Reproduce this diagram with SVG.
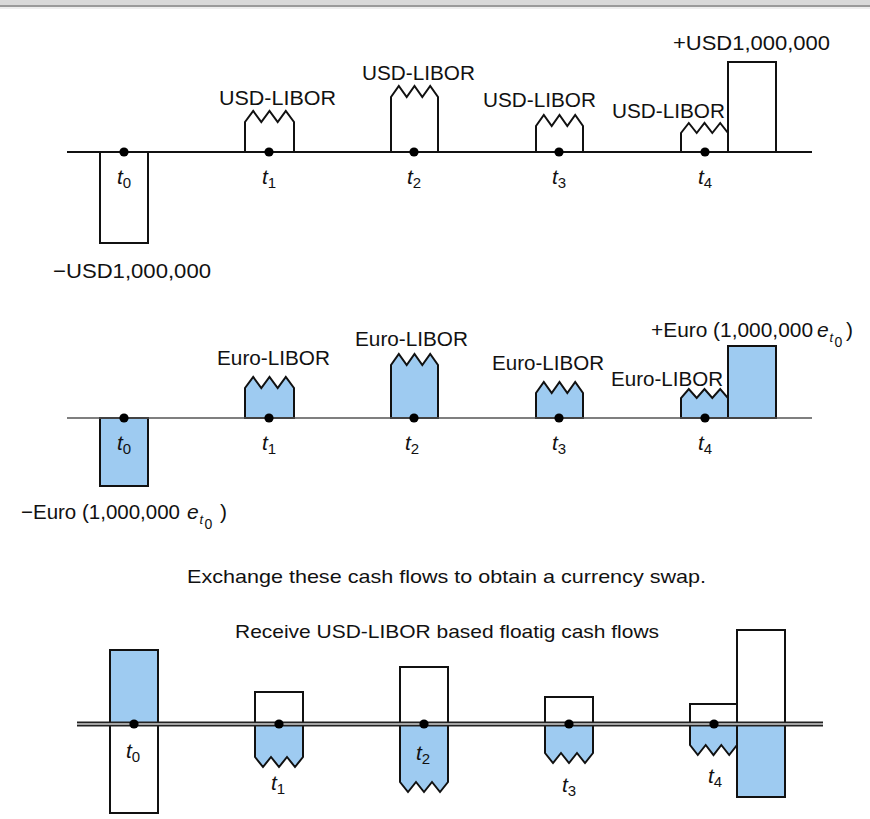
<svg xmlns="http://www.w3.org/2000/svg" width="870" height="819" viewBox="0 0 870 819">
<style>
  text { font-family: "Liberation Sans", Arial, sans-serif; fill: #111; }
  .lbl { font-size: 20px; }
  .amt { font-size: 21px; }
  .cap { font-size: 19px; }
  .it { font-style: italic; }
  .tk { font-size: 21px; font-style: italic; }
  .sub { font-size: 15px; font-style: normal; }
  .box { stroke: #111; stroke-width: 2; stroke-linejoin: miter; }
  .w { fill: #fff; }
  .b { fill: #9ecbf1; }
  .dot { fill: #000; }
</style>
<defs>
  <circle id="d" r="4.6" class="dot"/>
</defs>
<rect x="0" y="0" width="870" height="5" fill="#d9d9d9"/>
<line x1="0" y1="6" x2="870" y2="6" stroke="#9a9a9a" stroke-width="2"/>
<rect x="0" y="7" width="870" height="2" fill="#eeeeee"/>

<!-- TOP: USD flows -->
<g id="usd-t0"><rect class="box w" x="100" y="152" width="48" height="91"/>
  <text class="amt" x="53" y="278" textLength="158" lengthAdjust="spacingAndGlyphs">−USD1,000,000</text></g>
<g id="usd-t1"><path class="box w" d="M245 152V122L253.2 111L261.3 122L269.5 111L277.7 122L285.8 111L294 122V152"/>
  <text class="lbl" x="219" y="105" textLength="117" lengthAdjust="spacingAndGlyphs">USD-LIBOR</text></g>
<g id="usd-t2"><path class="box w" d="M391 152V97L398.8 86L406.7 97L414.5 86L422.3 97L430.2 86L438 97V152"/>
  <text class="lbl" x="362" y="80" textLength="113" lengthAdjust="spacingAndGlyphs">USD-LIBOR</text></g>
<g id="usd-t3"><path class="box w" d="M536 152V126L543.8 115L551.7 126L559.5 115L567.3 126L575.2 115L583 126V152"/>
  <text class="lbl" x="483" y="107" textLength="113" lengthAdjust="spacingAndGlyphs">USD-LIBOR</text></g>
<g id="usd-t4"><path class="box w" d="M681 152V133L688.8 123L696.7 133L704.5 123L712.3 133L720.2 123L728 133V152"/>
  <text class="lbl" x="612" y="118" textLength="113" lengthAdjust="spacingAndGlyphs">USD-LIBOR</text></g>
<g id="usd-principal"><rect class="box w" x="728" y="62" width="48" height="90"/>
  <text class="amt" x="673" y="50" textLength="157" lengthAdjust="spacingAndGlyphs">+USD1,000,000</text></g>

<!-- MIDDLE: Euro flows -->
<g id="eur-t0"><rect class="box b" x="100" y="418" width="48" height="68"/>
  <text class="amt" x="21" y="519" textLength="159" lengthAdjust="spacingAndGlyphs">−Euro (1,000,000</text>
  <text class="amt it" x="187" y="519">e</text>
  <text class="it" x="199.5" y="524" font-size="13">t</text>
  <text x="204.5" y="529" font-size="14">0</text>
  <text class="amt" x="220" y="519">)</text></g>
<g id="eur-t1"><path class="box b" d="M245 418V388L253.2 377L261.3 388L269.5 377L277.7 388L285.8 377L294 388V418Z"/>
  <text class="lbl" x="217" y="365" textLength="113" lengthAdjust="spacingAndGlyphs">Euro-LIBOR</text></g>
<g id="eur-t2"><path class="box b" d="M391 418V365L398.8 354L406.7 365L414.5 354L422.3 365L430.2 354L438 365V418Z"/>
  <text class="lbl" x="355" y="346" textLength="113" lengthAdjust="spacingAndGlyphs">Euro-LIBOR</text></g>
<g id="eur-t3"><path class="box b" d="M536 418V393L543.8 382L551.7 393L559.5 382L567.3 393L575.2 382L583 393V418Z"/>
  <text class="lbl" x="492" y="370" textLength="112" lengthAdjust="spacingAndGlyphs">Euro-LIBOR</text></g>
<g id="eur-t4"><path class="box b" d="M681 418V398L688.8 389L696.7 398L704.5 389L712.3 398L720.2 389L728 398V418Z"/>
  <text class="lbl" x="611" y="386" textLength="112" lengthAdjust="spacingAndGlyphs">Euro-LIBOR</text></g>
<g id="eur-principal"><rect class="box b" x="728" y="346" width="48" height="72"/>
  <text class="amt" x="651" y="337" textLength="162" lengthAdjust="spacingAndGlyphs">+Euro (1,000,000</text>
  <text class="amt it" x="817" y="337">e</text>
  <text class="it" x="829.5" y="342" font-size="13">t</text>
  <text x="834.5" y="347" font-size="14">0</text>
  <text class="amt" x="846" y="337">)</text></g>

<!-- BOTTOM: swap -->
<text class="cap" x="187" y="583" textLength="519" lengthAdjust="spacingAndGlyphs">Exchange these cash flows to obtain a currency swap.</text>
<text class="cap" x="235" y="638" textLength="424" lengthAdjust="spacingAndGlyphs">Receive USD-LIBOR based floatig cash flows</text>

<g id="swap-t0"><rect class="box b" x="110" y="650" width="48" height="74"/><rect class="box w" x="110" y="724" width="48" height="89"/></g>
<g id="swap-t1"><rect class="box w" x="255" y="692" width="48" height="32"/>
  <path class="box b" d="M255 724V757L263 767L271 757L279 767L287 757L295 767L303 757V724Z"/></g>
<g id="swap-t2"><rect class="box w" x="400" y="667" width="48" height="57"/>
  <path class="box b" d="M400 724V782L408 792L416 782L424 792L432 782L440 792L448 782V724Z"/></g>
<g id="swap-t3"><rect class="box w" x="545" y="697" width="48" height="27"/>
  <path class="box b" d="M545 724V753L553 763L561 753L569 763L577 753L585 763L593 753V724Z"/></g>
<g id="swap-t4"><rect class="box w" x="690" y="704" width="47" height="20"/>
  <path class="box b" d="M690 724V745L697.8 755L705.7 745L713.5 755L721.3 745L729.2 755L737 745V724Z"/></g>
<g id="swap-principal"><rect class="box w" x="737" y="630" width="48" height="94"/><rect class="box b" x="737" y="724" width="48" height="73"/></g>

<!-- connectors: time axes -->
<g id="axes">
  <line x1="67" y1="152" x2="812" y2="152" stroke="#111" stroke-width="2"/>
  <line x1="67" y1="418" x2="812" y2="418" stroke="#555" stroke-width="1.6"/>
  <line x1="77" y1="724" x2="823" y2="724" stroke="#222" stroke-width="5"/>
  <line x1="77" y1="724" x2="823" y2="724" stroke="#d0d0d0" stroke-width="1.6"/>
</g>

<g id="time-points">
  <use href="#d" x="124" y="152"/><use href="#d" x="269" y="152"/><use href="#d" x="414" y="152"/><use href="#d" x="559" y="152"/><use href="#d" x="705" y="152"/>
  <use href="#d" x="124" y="418"/><use href="#d" x="269" y="418"/><use href="#d" x="414" y="418"/><use href="#d" x="559" y="418"/><use href="#d" x="705" y="418"/>
  <use href="#d" x="134" y="724"/><use href="#d" x="279" y="724"/><use href="#d" x="424" y="724"/><use href="#d" x="569" y="724"/><use href="#d" x="714" y="724"/>
</g>

<g id="time-labels">
  <text class="tk" x="117" y="184">t<tspan class="sub" dy="4">0</tspan></text>
  <text class="tk" x="262" y="184">t<tspan class="sub" dy="4">1</tspan></text>
  <text class="tk" x="407" y="184">t<tspan class="sub" dy="4">2</tspan></text>
  <text class="tk" x="552" y="184">t<tspan class="sub" dy="4">3</tspan></text>
  <text class="tk" x="698" y="184">t<tspan class="sub" dy="4">4</tspan></text>

  <text class="tk" x="117" y="450">t<tspan class="sub" dy="4">0</tspan></text>
  <text class="tk" x="262" y="450">t<tspan class="sub" dy="4">1</tspan></text>
  <text class="tk" x="405" y="450">t<tspan class="sub" dy="4">2</tspan></text>
  <text class="tk" x="552" y="450">t<tspan class="sub" dy="4">3</tspan></text>
  <text class="tk" x="698" y="450">t<tspan class="sub" dy="4">4</tspan></text>

  <text class="tk" x="126" y="758">t<tspan class="sub" dy="4">0</tspan></text>
  <text class="tk" x="271" y="790">t<tspan class="sub" dy="4">1</tspan></text>
  <text class="tk" x="416" y="760">t<tspan class="sub" dy="4">2</tspan></text>
  <text class="tk" x="562" y="792">t<tspan class="sub" dy="4">3</tspan></text>
  <text class="tk" x="708" y="783">t<tspan class="sub" dy="4">4</tspan></text>
</g>
</svg>
